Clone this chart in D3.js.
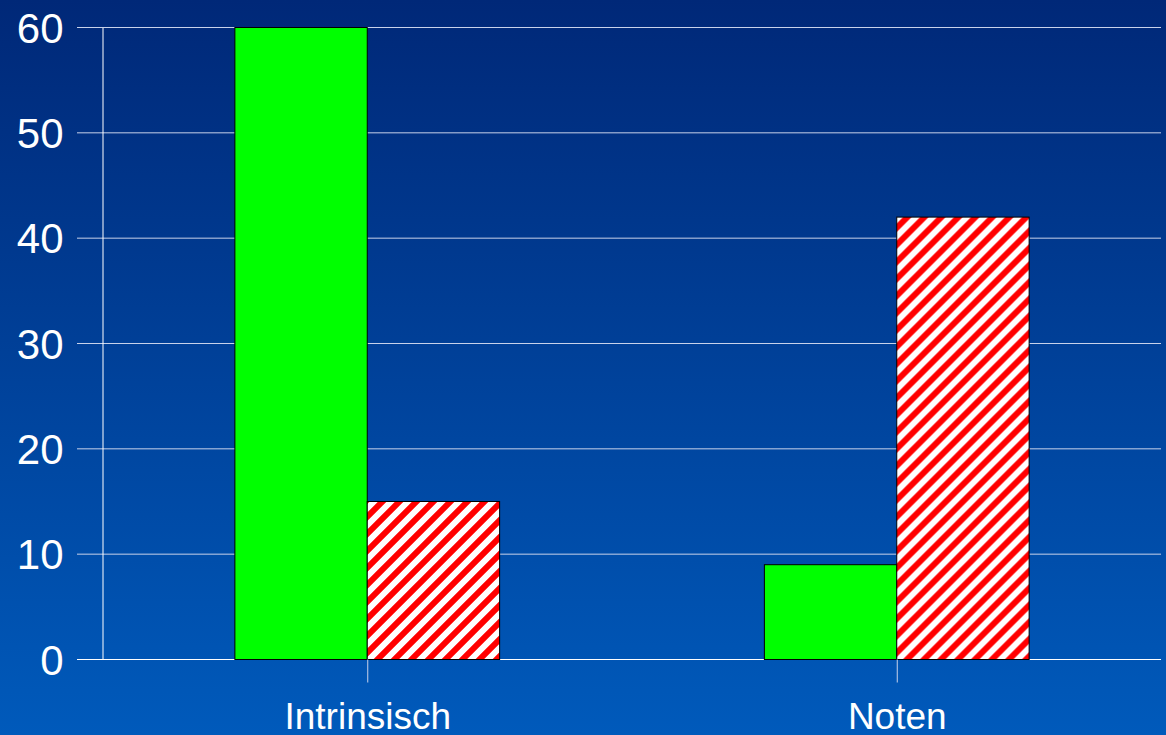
<!DOCTYPE html>
<html>
  <head>
    <script src="https://cdnjs.cloudflare.com/ajax/libs/d3/7.8.5/d3.min.js"></script>
    <style>
      body { margin: 0; overflow: hidden; }
      svg { display: block; }
    </style>
  </head>
  <body>
    <svg width="1166" height="735"></svg>
    <script>
      var categories = ["Intrinsisch", "Noten"];
      var series = ["a", "b"];
      var valuesA = [60, 9];
      var valuesB = [15, 42];
      var yTicks = [0, 10, 20, 30, 40, 50, 60];

      var svg = d3.select("svg");
      var W = 1166, H = 735;
      var plotLeft = 102, plotRight = 1161, plotTop = 27, plotBottom = 659;

      // background gradient
      var defs = svg.append("defs");
      var grad = defs.append("linearGradient")
        .attr("id", "bg").attr("x1", 0).attr("y1", 0).attr("x2", 0).attr("y2", 1);
      grad.append("stop").attr("offset", "0%").attr("stop-color", "#002878");
      grad.append("stop").attr("offset", "100%").attr("stop-color", "#005abb");

      // red diagonal hatch
      var p = 17;
      var pat = defs.append("pattern")
        .attr("id", "hatch")
        .attr("patternUnits", "userSpaceOnUse")
        .attr("width", p).attr("height", p);
      pat.append("rect").attr("width", p).attr("height", p).attr("fill", "#ffffff");
      pat.append("path")
        .attr("d", "M-3,3 l6,-6 M-1," + (p + 1) + " l" + (p + 2) + "," + (-p - 2) + " M" + (p - 3) + "," + (p + 3) + " l6,-6")
        .attr("stroke", "#ff0000")
        .attr("stroke-width", 6);

      svg.append("rect").attr("width", W).attr("height", H).attr("fill", "url(#bg)");

      var y = d3.scaleLinear().domain([0, 60]).range([plotBottom, plotTop]);
      var x0 = d3.scaleBand().domain(categories).range([plotLeft, plotRight]);
      var bw = x0.bandwidth();
      var x1 = d3.scaleBand().domain(series).range([bw / 4, bw * 3 / 4]);

      // gridlines
      svg.append("g")
        .selectAll("line")
        .data(yTicks)
        .enter().append("line")
          .attr("x1", plotLeft - 25).attr("x2", plotRight)
          .attr("y1", function(d) { return y(d) + 0.5; })
          .attr("y2", function(d) { return y(d) + 0.5; })
          .attr("stroke", function(d) { return d === 0 ? "#ffffff" : "#c8d2ea"; })
          .attr("stroke-width", 1);

      // y axis
      var yAxis = svg.append("g")
        .attr("transform", "translate(" + (plotLeft + 0.5) + ",0.5)")
        .call(d3.axisLeft(y).tickValues(yTicks).tickSize(0).tickPadding(39));
      yAxis.select(".domain").attr("stroke", "#ffffff");
      yAxis.selectAll("text")
        .attr("fill", "#ffffff")
        .style("font-family", "Liberation Sans, Arial, sans-serif")
        .style("font-size", "42px")
        .attr("dy", "0.35em");

      // bars
      var groups = svg.append("g")
        .selectAll("g")
        .data(categories)
        .enter().append("g")
          .attr("transform", function(d) { return "translate(" + x0(d) + ",0)"; });

      groups.selectAll("rect")
        .data(function(d, i) {
          return [{ s: "a", v: valuesA[i] }, { s: "b", v: valuesB[i] }];
        })
        .enter().append("rect")
          .attr("x", function(d) { return x1(d.s) + 0.5; })
          .attr("y", function(d) { return y(d.v) + 0.5; })
          .attr("width", x1.bandwidth())
          .attr("height", function(d) { return plotBottom - y(d.v); })
          .attr("fill", function(d) { return d.s === "a" ? "#00ff00" : "url(#hatch)"; })
          .attr("stroke", "#000000")
          .attr("stroke-width", 1);

      // x axis (ticks at category centres)
      var xAxis = svg.append("g")
        .attr("transform", "translate(1," + (plotBottom + 0.5) + ")")
        .call(d3.axisBottom(x0).tickSize(23).tickPadding(20));
      xAxis.select(".domain").remove();
      xAxis.selectAll("line").attr("stroke", "#c8d2ea");
      xAxis.selectAll("text")
        .attr("fill", "#ffffff")
        .style("font-family", "Liberation Sans, Arial, sans-serif")
        .style("font-size", "37px");
    </script>
  </body>
</html>
